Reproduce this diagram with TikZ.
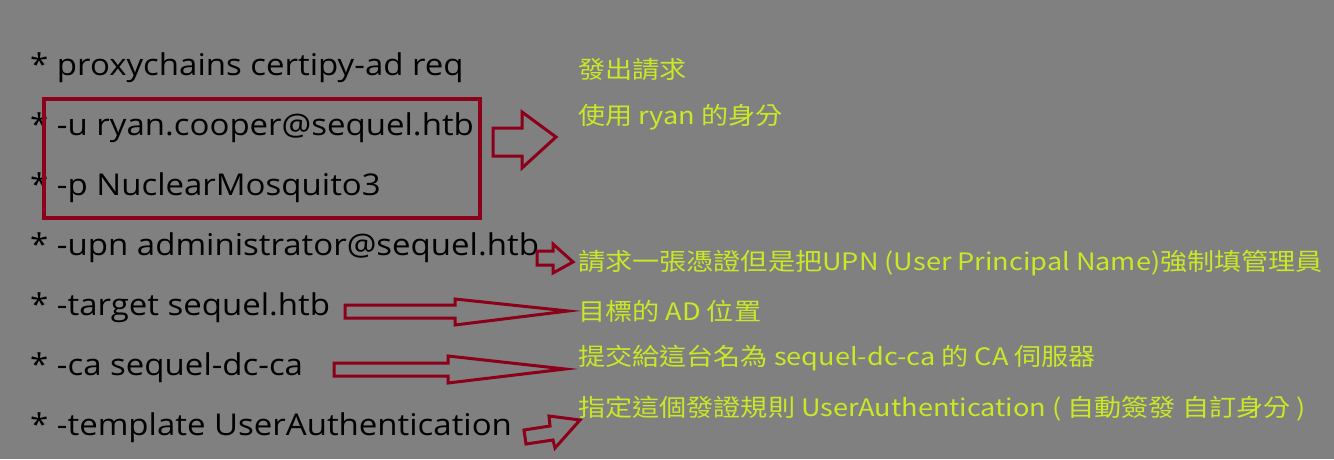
\documentclass[tikz,border=0pt]{standalone}
\usepackage{fontspec}
\setmainfont{Open Sans}
\newfontfamily\cjk{Noto Sans CJK TC}
\definecolor{bggray}{RGB}{128,128,128}
\definecolor{boxred}{RGB}{140,0,26}
\definecolor{notegreen}{RGB}{200,232,40}
\usetikzlibrary{positioning}
\begin{document}
\begin{tikzpicture}[x=1pt,y=-1pt,
  cmd/.style={anchor=west, inner sep=0pt, xscale=1.1, font=\fontsize{30}{34}\selectfont, text=black},
  note/.style={anchor=west, inner sep=0pt, xscale=1.13, font=\cjk\fontsize{24}{28}\selectfont, text=notegreen},
  blockarrow/.style={draw=boxred, line width=3pt, line join=miter}]
  % background
  \fill[bggray] (0,0) rectangle (1334,459);
  \useasboundingbox (0,0) rectangle (1334,459);

  % command lines
  \node[cmd] (req) at (30,68) {* proxychains certipy-ad req};
  \node[cmd] (user) at (30,128) {* -u ryan.cooper@sequel.htb};
  \node[cmd] (pass) at (30,188) {* -p NuclearMosquito3};
  \node[cmd] (upn) at (30,248) {* -upn administrator@sequel.htb};
  \node[cmd] (target) at (30,308) {* -target sequel.htb};
  \node[cmd] (ca) at (30,368) {* -ca sequel-dc-ca};
  \node[cmd] (tmpl) at (30,428) {* -template UserAuthentication};

  % credentials box
  \draw[boxred, line width=3.5pt] (44,99) rectangle (480,218);

  % notes
  \node[note] (nreq) at (578,70) {發出請求};
  \node[note] (nuser) at (578,117) {使用 ryan 的身分};
  \node[note] (nupn) at (578,263) {請求一張憑證但是把UPN (User Principal Name)強制填管理員};
  \node[note] (ntarget) at (578,311) {目標的 AD 位置};
  \node[note] (nca) at (578,358) {提交給這台名為 sequel-dc-ca 的 CA 伺服器};
  \node[note] (ntmpl) at (578,409) {指定這個發證規則 UserAuthentication ( 自動簽發 自訂身分 )};

  % block arrows
  \draw[blockarrow] (493,128) -- (522,128) -- (522,112) -- (556,137) -- (522,168) -- (522,156) -- (493,156) -- cycle;
  \draw[blockarrow] (537,251) -- (553,251) -- (553,244) -- (573,262) -- (553,273) -- (553,265) -- (537,265) -- cycle;
  \draw[blockarrow] (345,305) -- (455,305) -- (455,299) -- (568,311) -- (455,325) -- (455,318) -- (345,318) -- cycle;
  \draw[blockarrow] (334,363) -- (448,363) -- (448,356) -- (565,369) -- (448,383) -- (448,376) -- (334,376) -- cycle;
  \draw[blockarrow] (524,430) -- (550,426) -- (549,416) -- (580,420) -- (555,448) -- (553,440) -- (526,444) -- cycle;
\end{tikzpicture}
\end{document}
